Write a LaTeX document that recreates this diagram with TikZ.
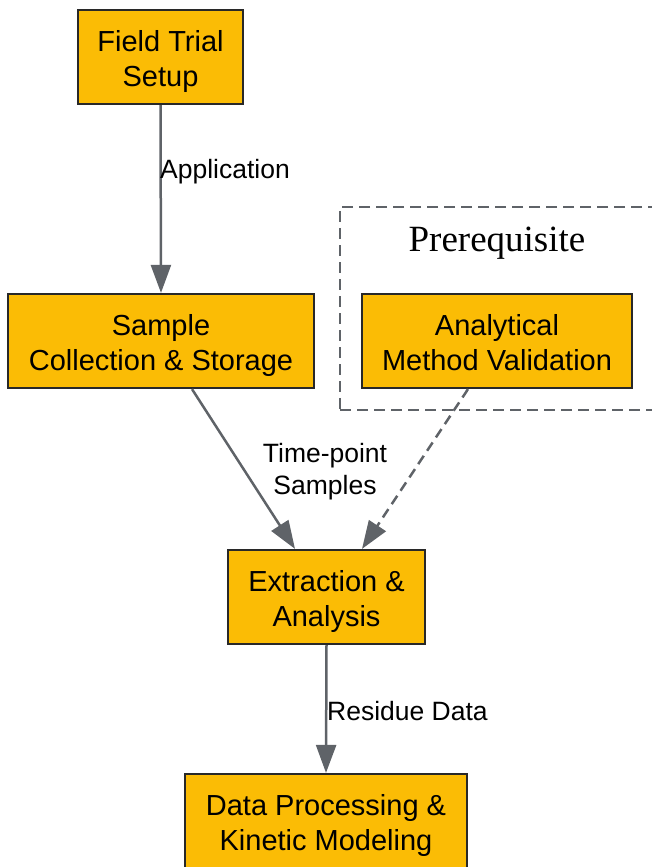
\documentclass[tikz,border=0pt]{standalone}
\usepackage{fontspec}
\setmainfont{Liberation Sans}
\newfontfamily\serifface{Liberation Serif}
\usetikzlibrary{arrows.meta}
\definecolor{boxfill}{RGB}{251,188,5}
\definecolor{boxline}{RGB}{40,40,40}
\definecolor{edgecol}{RGB}{95,99,104}
\begin{document}
\begin{tikzpicture}[x=1bp,y=-1bp,
  box/.style={draw=boxline, line width=2.2bp, fill=boxfill, minimum height=94bp,
    align=center, inner sep=0pt, font=\fontsize{29bp}{35bp}\selectfont,
    text height=59bp, text depth=0pt},
  edge/.style={draw=edgecol, line width=2.5bp, -{Triangle[length=28bp,width=20bp]}},
  dashededge/.style={edge, dash pattern=on 10bp off 6bp},
  lbl/.style={font=\fontsize{26.5bp}{32bp}\selectfont, inner sep=0pt, align=center},
  clusterbox/.style={draw=edgecol, line width=2.2bp, dash pattern=on 11bp off 6bp, inner sep=0pt}]
\useasboundingbox (0,0) rectangle (652,867);
\clip (0,0) rectangle (652,867);
\node[clusterbox, minimum width=330bp, minimum height=203bp] (cluster) at (505,308.5) {};
\node[font=\serifface\fontsize{37bp}{40bp}\selectfont, inner sep=0pt] (clabel) at (497,243.5) {Prerequisite};
\node[box, minimum width=165bp] (field) at (160.5,57) {Field Trial\\Setup};
\node[box, minimum width=306bp] (sample) at (161,341) {Sample\\Collection \& Storage};
\node[box, minimum width=270bp] (valid) at (497,341) {Analytical\\Method Validation};
\node[box, minimum width=197bp] (extract) at (326.5,597) {Extraction \&\\Analysis};
\node[box, minimum width=282bp] (data) at (326,821) {Data Processing \&\\Kinetic Modeling};
\draw[edge] (field.south) -- (sample.north);
\draw[edge] ([xshift=31bp]sample.south) -- ([xshift=-31.5bp]extract.north);
\draw[dashededge] ([xshift=-29bp]valid.south) -- ([xshift=35.5bp]extract.north);
\draw[edge] (extract.south) -- (data.north);
\node[lbl, anchor=west] (l1) at (160,172) {Application};
\node[lbl] (l2) at (325,472) {Time-point\\Samples};
\node[lbl, anchor=west] (l3) at (327,711) {Residue Data};
\end{tikzpicture}
\end{document}
